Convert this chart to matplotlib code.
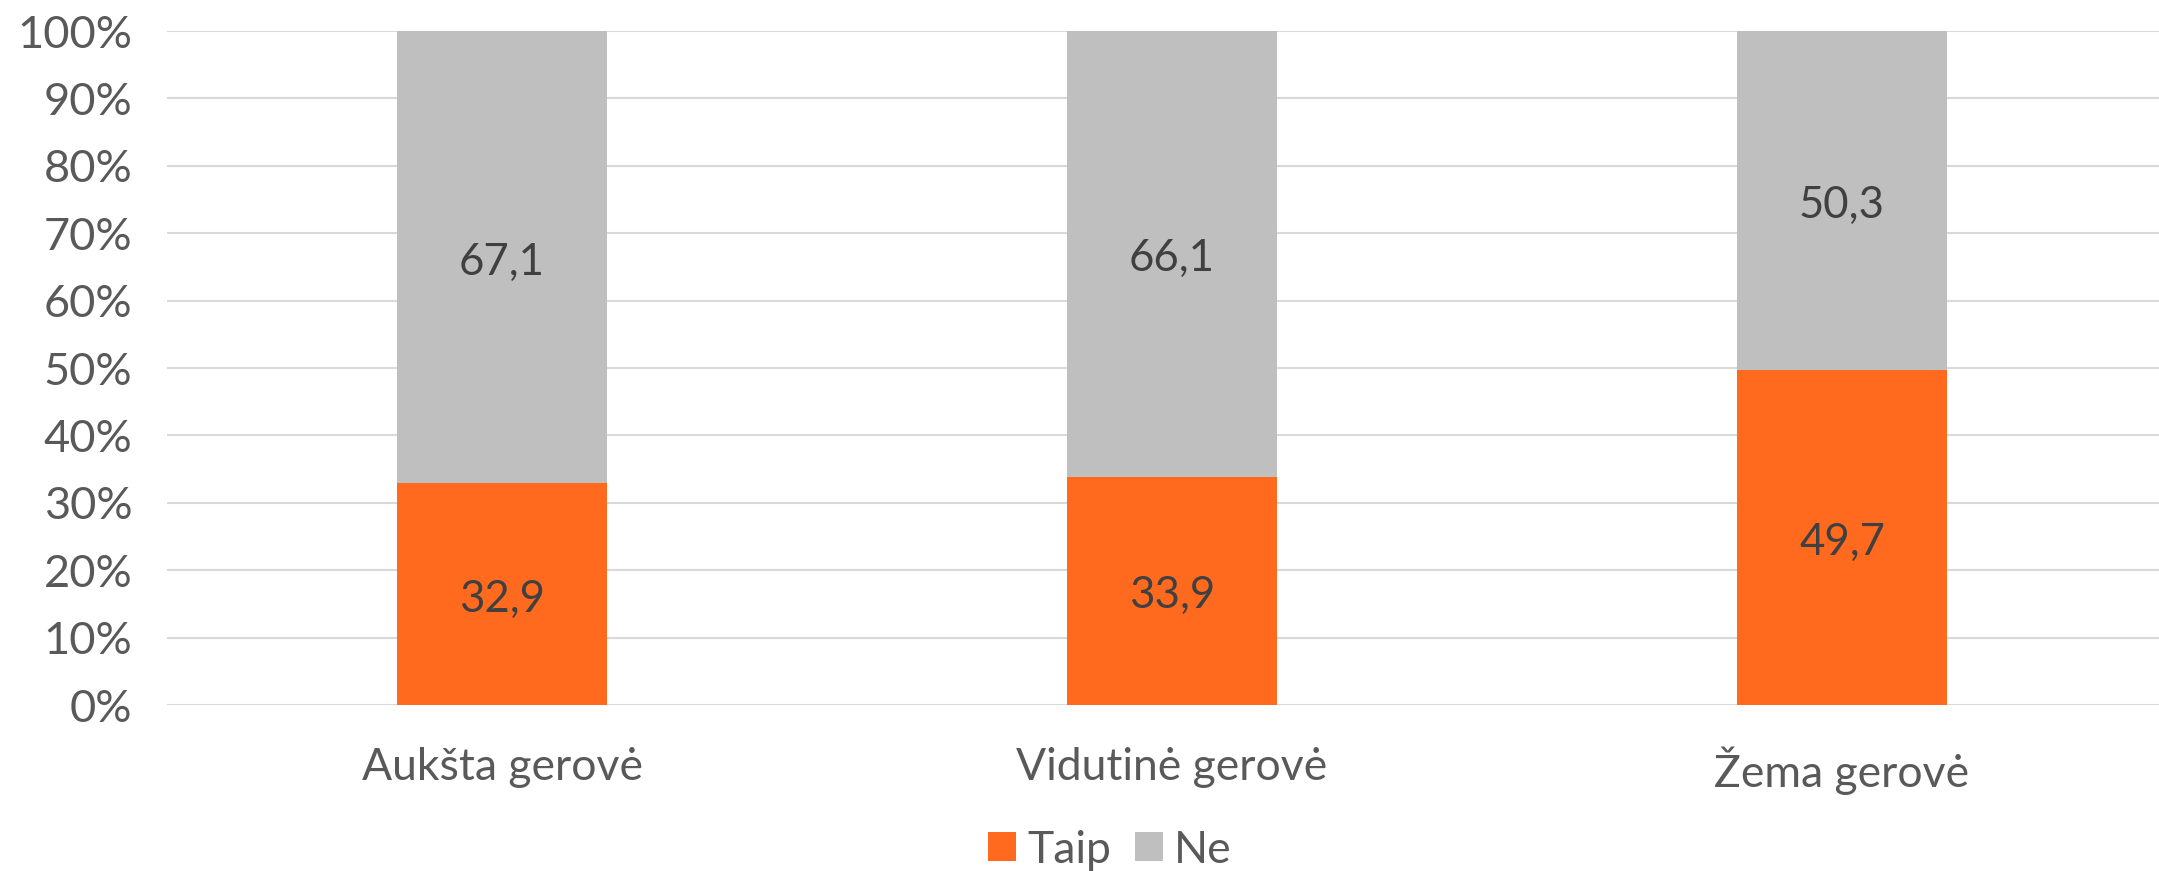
import matplotlib.pyplot as plt
import numpy as np
from matplotlib.patches import Patch
from matplotlib.ticker import PercentFormatter

# data
categories = ['Aukšta gerovė', 'Vidutinė gerovė', 'Žema gerovė']
taip = [32.9, 33.9, 49.7]
ne = [67.1, 66.1, 50.3]
series_names = ['Taip', 'Ne']
colors = ['#FF6A1F', '#BFBFBF']

plt.rcParams['font.family'] = ['Lato', 'DejaVu Sans']

fig = plt.figure(figsize=(21.59, 8.71), dpi=100)
ax = fig.add_axes([167 / 2159, 1 - 705 / 871, 2010 / 2159, 674 / 871])

x = np.arange(len(categories))
w = 0.313
ax.bar(x, taip, width=w, color=colors[0], zorder=3)
ax.bar(x, ne, width=w, bottom=taip, color=colors[1], zorder=3)

# data labels, nudged down a bit to match the original baseline
for i in range(len(categories)):
    for val, mid in [(taip[i], taip[i] / 2), (ne[i], taip[i] + ne[i] / 2)]:
        ax.annotate(f'{val:.1f}'.replace('.', ','), (x[i], mid), xytext=(0, -3.5),
                    textcoords='offset points', ha='center', va='center',
                    fontsize=31.5, color='#404040', zorder=4)

ax.set_xlim(-0.5, 2.5)
ax.set_ylim(0, 100)
ax.set_yticks(np.arange(0, 101, 10))
ax.yaxis.set_major_formatter(PercentFormatter(decimals=0))
ax.set_xticks(x)
ax.set_xticklabels(categories)
ax.tick_params(axis='y', length=0, pad=25, labelsize=32.5, labelcolor='#595959')
ax.tick_params(axis='x', length=0, pad=30, labelsize=32, labelcolor='#595959')
ax.grid(axis='y', color='#D9D9D9', linewidth=1.5, zorder=0)
for s in ax.spines.values():
    s.set_visible(False)

handles = [Patch(facecolor=c, edgecolor='none') for c in colors]
fig.legend(handles, series_names, loc='center', bbox_to_anchor=(1110 / 2159, 1 - 850 / 871), ncol=2,
           frameon=False, fontsize=32, labelcolor='#595959', handlelength=0.62, handleheight=0.62,
           handletextpad=0.25, columnspacing=0.55)

fig.savefig('out.png', dpi=100)
